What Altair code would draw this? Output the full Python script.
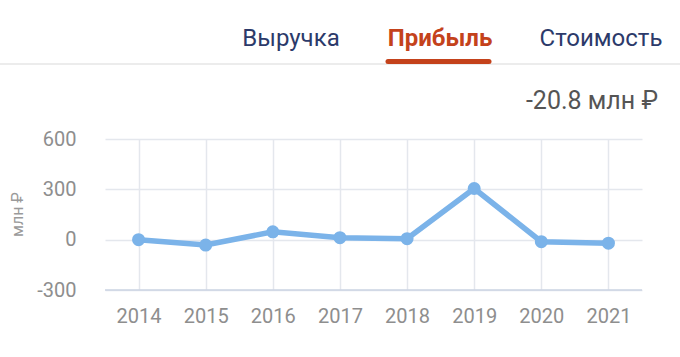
import altair as alt
import pandas as pd

years = ["2014", "2015", "2016", "2017", "2018", "2019", "2020", "2021"]
profit = [0, -32, 47, 12, 6, 305, -12, -20.8]

tabs = ["Выручка", "Прибыль", "Стоимость"]
current_value = ["-20.8 млн ₽"]
y_title = "млн ₽"
y_ticks = [-300, 0, 300, 600]

df = pd.DataFrame({"year": years, "profit": profit})
one = pd.DataFrame({"k": [0]})

FONT = "Roboto"
LINE_COLOR = "#7bb3e9"

x_enc = alt.X("year:O", scale=alt.Scale(type="point", padding=0.5),
              axis=alt.Axis(title=None, labelAngle=0, ticks=False, domain=False,
                            grid=True, gridColor="#e4e7ed", gridWidth=1.5,
                            labelFont=FONT, labelFontSize=20, labelColor="#8e8e8e",
                            labelPadding=16))
y_enc = alt.Y("profit:Q", scale=alt.Scale(domain=[-300, 600], nice=False, zero=False),
              axis=alt.Axis(title=y_title, values=y_ticks, ticks=False, domain=False,
                            labelExpr="'' + datum.value",
                            grid=True, gridColor="#e4e7ed", gridWidth=1.5,
                            labelFont=FONT, labelFontSize=20, labelColor="#8e8e8e",
                            labelPadding=29, titleFont=FONT, titleFontSize=16,
                            titleFontWeight="normal", titleColor="#9a9a9a",
                            titleX=-88, titleY=75, titleAngle=270,
                            titleAlign="center", titleBaseline="middle"))

base = alt.Chart(df)
ann = alt.Chart(one)

bottom_line = ann.mark_rule(color="#ccd4e3", strokeWidth=1.5).encode(
    x=alt.value(0), x2=alt.value(537), y=alt.value(151))

line = base.mark_line(color=LINE_COLOR, strokeWidth=5.5).encode(x=x_enc, y=y_enc)
pts = base.mark_circle(color=LINE_COLOR, size=170, opacity=1).encode(x=x_enc, y=y_enc)

value_text = ann.mark_text(text=current_value[0], font=FONT, fontSize=25, color="#555555",
                           align="right", baseline="middle").encode(
    x=alt.value(553), y=alt.value(-38))

tab1 = ann.mark_text(text=tabs[0], font=FONT, fontSize=24, color="#2c3a6a",
                     align="center", baseline="alphabetic").encode(
    x=alt.value(186), y=alt.value(-93))
tab2 = ann.mark_text(text=tabs[1], font=FONT, fontSize=24, fontWeight="bold", color="#c4421b",
                     align="center", baseline="alphabetic").encode(
    x=alt.value(335), y=alt.value(-93))
tab3 = ann.mark_text(text=tabs[2], font=FONT, fontSize=24, color="#2c3a6a",
                     align="center", baseline="alphabetic").encode(
    x=alt.value(496), y=alt.value(-93))

separator = ann.mark_rule(color="#ececec", strokeWidth=2).encode(
    x=alt.value(-105), x2=alt.value(575), y=alt.value(-75))
underline = ann.mark_rule(color="#c4421b", strokeWidth=5, strokeCap="round").encode(
    x=alt.value(283), x2=alt.value(384), y=alt.value(-77.5))

chart = alt.layer(
    bottom_line, line, pts, value_text, separator, underline, tab1, tab2, tab3
).properties(
    width=537, height=151,
    autosize=alt.AutoSizeParams(type="none"),
    padding={"left": 105, "top": 139, "right": 38, "bottom": 67},
    background="white",
).configure_view(stroke=None)

chart.save("out.html", embed_options={"renderer": "svg", "actions": False})
